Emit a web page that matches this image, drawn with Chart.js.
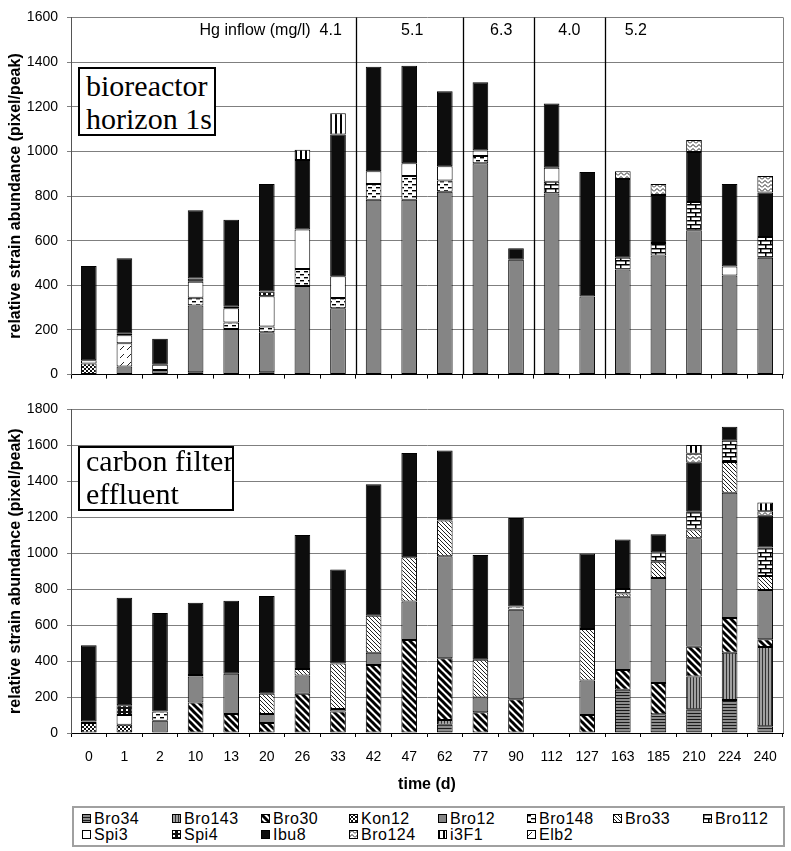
<!DOCTYPE html>
<html><head><meta charset="utf-8">
<script src="https://cdn.jsdelivr.net/npm/chart.js@4.4.1/dist/chart.umd.min.js"></script>
<style>
html,body{margin:0;padding:0;background:#fff;}
#wrap{position:relative;width:791px;height:851px;overflow:hidden;font-family:"Liberation Sans",Arial,sans-serif;}
#wrap>canvas{position:absolute;left:0;}
.box{position:absolute;border:2px solid #000;background:#fff;font-family:"Liberation Serif","Times New Roman",serif;font-size:30px;line-height:33px;padding:0 0 0 6px;box-sizing:border-box;white-space:nowrap;color:#000;}
#legend{position:absolute;left:72px;top:806px;width:713px;height:41px;border:2px solid #a0a0a0;box-sizing:border-box;background:#fff;}
.li{position:absolute;font-size:16px;line-height:16px;white-space:nowrap;color:#000;letter-spacing:0.5px;}
.li canvas{position:absolute;left:0;top:3px;}
.li span{position:absolute;left:12px;top:0;}
</style></head>
<body>
<div id="wrap">
  <canvas id="top" width="791" height="392" style="top:0"></canvas>
  <canvas id="bottom" width="791" height="410" style="top:392px"></canvas>
  <div class="box" style="left:78px;top:67px;width:138px;height:69px;">bioreactor<br>horizon 1s</div>
  <div class="box" style="left:78px;top:446px;width:156px;height:65px;"><div style="position:relative;top:-4px">carbon filter<br>effluent</div></div>
  <div id="legend"></div>
</div>
<script>
// ---------- DATA ----------
const categories = ['0','1','2','10','13','20','26','33','42','47','62','77','90','112','127','163','185','210','224','240'];
const topYTicks = [0,200,400,600,800,1000,1200,1400,1600];
const bottomYTicks = [0,200,400,600,800,1000,1200,1400,1600,1800];
const hgInflow = ['4.1','5.1','6.3','4.0','5.2'];
const legendNames = ['Bro34','Bro143','Bro30','Kon12','Bro12','Bro148','Bro33','Bro112','Spi3','Spi4','Ibu8','Bro124','i3F1','Elb2'];

// bioreactor horizon 1s
const topKon12  = [50,0,0,10,0,11,0,0,0,0,0,0,0,0,0,0,0,0,0,0];
const topBro12  = [0,36,21,299,204,179,397,297,783,783,819,947,514,811,350,471,533,647,444,523];
const topElb2   = [0,104,0,0,0,0,0,0,0,0,0,0,0,0,0,0,0,0,0,0];
const topBro148 = [0,0,0,35,29,26,76,46,71,107,50,32,0,0,0,0,0,0,0,0];
const topBro112 = [0,0,0,0,0,0,0,0,0,0,0,0,0,53,0,52,57,126,0,93];
const topSpi3   = [14,36,23,72,64,135,177,97,57,57,64,25,0,62,0,0,0,0,40,0];
const topSpi4   = [0,7,0,15,7,21,0,0,0,0,0,0,0,0,0,0,0,0,0,0];
const topIbu8   = [423,338,117,305,390,482,311,636,468,436,336,305,52,288,557,353,214,224,370,200];
const topBro124 = [0,0,0,0,0,0,0,0,0,0,0,0,0,0,0,35,50,54,0,74];
const topI3F1   = [0,0,0,0,0,0,46,95,0,0,0,0,0,0,0,0,0,0,0,0];

// carbon filter effluent
const botBro34  = [0,0,0,0,0,0,0,0,0,0,46,0,0,0,0,241,104,132,183,37];
const botBro143 = [0,0,0,0,0,0,0,0,0,0,27,0,0,0,0,0,0,182,264,442];
const botBro30  = [0,0,0,170,106,55,219,119,378,517,343,115,188,0,100,110,174,166,192,42];
const botKon12  = [55,46,0,0,0,0,0,0,0,0,0,0,0,0,0,0,0,0,0,0];
const botBro12  = [0,0,68,144,223,51,101,14,69,214,567,82,497,0,192,407,584,603,698,274];
const botBro148 = [0,0,51,0,0,0,0,0,0,0,0,0,18,0,0,0,0,0,0,0];
const botBro33  = [0,0,0,0,0,113,36,254,205,246,199,210,0,0,287,18,91,49,170,78];
const botBro112 = [0,0,0,0,0,0,0,0,0,0,0,0,0,0,0,25,52,101,119,159];
const botSpi3   = [9,54,0,9,0,0,0,0,0,0,0,0,0,0,0,0,0,0,0,0];
const botSpi4   = [0,55,0,0,0,0,0,0,0,0,0,0,0,0,0,0,0,0,0,0];
const botIbu8   = [424,597,548,402,407,543,745,523,731,581,389,583,493,0,420,276,100,270,78,177];
const botBro124 = [0,0,0,0,0,0,0,0,0,0,0,0,0,0,0,0,0,50,0,24];
const botI3F1   = [0,0,0,0,0,0,0,0,0,0,0,0,0,0,0,0,0,49,0,49];

// ---------- PATTERNS ----------
function tile(w,h,bg,draw){
  const c=document.createElement('canvas'); c.width=w; c.height=h;
  const g=c.getContext('2d'); g.fillStyle=bg; g.fillRect(0,0,w,h); draw(g,w,h); return c;
}
function diag(g,s,lw,col){ // "\" direction
  g.strokeStyle=col; g.lineWidth=lw; g.lineCap='butt';
  for(const k of [-s,0,s]){ g.beginPath(); g.moveTo(k-1,-1); g.lineTo(k+s+1,s+1); g.stroke(); }
}
const tiles = {
  Bro34: tile(4,3,'#8c8c8c',g=>{g.fillStyle='#1a1a1a';g.fillRect(0,0,4,1);}),
  Bro143: tile(3,4,'#a0a0a0',g=>{g.fillStyle='#333';g.fillRect(0,0,1,4);}),
  Bro30: tile(7,7,'#fff',(g,w)=>diag(g,w,3,'#000')),
  Kon12: tile(4,4,'#fff',g=>{g.fillStyle='#111';g.fillRect(0,0,2,2);g.fillRect(2,2,2,2);}),
  Bro12: tile(2,2,'#858585',()=>{}),
  Bro148: tile(8,6,'#fff',g=>{g.fillStyle='#000';g.fillRect(0,1,4,1.4);g.fillRect(4,4,4,1.4);}),
  Bro33: tile(4,4,'#fff',(g,w)=>diag(g,w,1,'#222')),
  Bro112: tile(10,8,'#fff',g=>{g.fillStyle='#000';g.fillRect(0,0,10,1.5);g.fillRect(0,4,10,1.5);g.fillRect(0,0,1.5,4);g.fillRect(5,4,1.5,4);}),
  Spi3: tile(2,2,'#fff',()=>{}),
  Spi4: tile(5,4,'#111',g=>{g.fillStyle='#fff';g.fillRect(1,1,2,2);}),
  Ibu8: tile(2,2,'#0d0d0d',()=>{}),
  Bro124: tile(6,4,'#fff',g=>{g.strokeStyle='#222';g.lineWidth=1;g.beginPath();g.moveTo(0,3.5);g.lineTo(3,0.5);g.lineTo(6,3.5);g.stroke();}),
  i3F1: tile(5,2,'#fff',g=>{g.fillStyle='#000';g.fillRect(0,0,2,2);}),
  Elb2: tile(7,8,'#fff',g=>{g.strokeStyle='#222';g.lineWidth=1;g.beginPath();g.moveTo(1,6);g.lineTo(5,2);g.stroke();})
};
function fillFor(ctx,name){ return ctx.createPattern(tiles[name],'repeat'); }

// ---------- CHART HELPERS ----------
const FONT = '"Liberation Sans", Arial, sans-serif';
Chart.defaults.font.family = FONT;
Chart.defaults.color = '#000';

function build(ctx, series){
  return series.map(([name,vals])=>({
    label:name,
    data: vals.map(v=> v>0 ? v : null),
    backgroundColor: fillFor(ctx,name),
    borderColor:'#000', borderWidth:1, borderSkipped:false,
    barPercentage:0.44, categoryPercentage:1.0, stack:'s'
  }));
}
const frame = {id:'frame', afterDraw(chart){
  const a=chart.chartArea, c=chart.ctx; c.save();
  c.strokeStyle='#808080'; c.lineWidth=1;
  c.beginPath(); c.moveTo(Math.round(a.right)+0.5,a.top); c.lineTo(Math.round(a.right)+0.5,a.bottom); c.stroke();
  c.restore();
}};
const hgPlugin = {id:'hg', afterDraw(chart){
  const x=chart.scales.x, a=chart.chartArea, c=chart.ctx;
  const step = x.getPixelForValue(1)-x.getPixelForValue(0);
  const b = i => x.getPixelForValue(i)-step/2;
  c.save(); c.strokeStyle='#000'; c.lineWidth=1.3;
  [8,11,13,15].forEach(i=>{const px=Math.round(b(i))+0.5; c.beginPath(); c.moveTo(px,a.top); c.lineTo(px,a.bottom); c.stroke();});
  c.fillStyle='#000'; c.font='16px '+FONT; c.textBaseline='middle';
  const y=a.top+13;
  c.textAlign='right'; c.fillText('Hg inflow (mg/l)  '+hgInflow[0], b(8)-14, y);
  c.textAlign='center';
  c.fillText(hgInflow[1], x.getPixelForValue(9)+3, y);
  c.fillText(hgInflow[2], b(12)+3, y);
  c.fillText(hgInflow[3], b(14), y);
  c.fillText(hgInflow[4], x.getPixelForValue(15)+13, y);
  c.restore();
}};

function makeChart(id, series, yTicks, showX, padTop, xHeight, plugins){
  const ctx=document.getElementById(id).getContext('2d');
  return new Chart(ctx,{
    type:'bar',
    data:{labels:categories, datasets:build(ctx,series)},
    options:{
      responsive:false, animation:false, devicePixelRatio:1,
      layout:{padding:{left:0,right:8,top:padTop,bottom:0}},
      plugins:{legend:{display:false}, tooltip:{enabled:false}},
      scales:{
        x:{stacked:true, offset:true,
           grid:{display:true, drawOnChartArea:false, drawTicks:true, tickLength:4, color:'#000', offset:true},
           border:{display:true, color:'#000', width:1},
           ticks:{display:true, padding:12, font:{size:14}, color:'#000', maxRotation:0, autoSkip:false,
                  callback:(v,i)=> showX ? categories[i] : ''},
           title:{display:showX, text:'time (d)', font:{size:16, weight:'bold'}, color:'#000', padding:{top:0,bottom:8}},
           afterFit:s=>{s.height=xHeight;}
        },
        y:{stacked:true, min:0, max:yTicks[yTicks.length-1],
           afterBuildTicks:s=>{s.ticks=yTicks.map(v=>({value:v}));},
           grid:{color:'#7f7f7f', lineWidth:1, tickLength:4, drawTicks:true},
           border:{display:true, color:'#555', width:1},
           ticks:{padding:9, font:{size:14}, color:'#000', callback:v=>String(v)},
           title:{display:true, text:'relative strain abundance (pixel/peak)', font:{size:16, weight:'bold'}, color:'#000', padding:{top:6,bottom:0}},
           afterFit:s=>{s.width=71;}
        }
      }
    },
    plugins:plugins
  });
}

makeChart('top', [
  ['Kon12',topKon12],['Bro12',topBro12],['Elb2',topElb2],['Bro148',topBro148],['Bro112',topBro112],
  ['Spi3',topSpi3],['Spi4',topSpi4],['Ibu8',topIbu8],['Bro124',topBro124],['i3F1',topI3F1]
], topYTicks, false, 12, 8, [frame, hgPlugin]);

makeChart('bottom', [
  ['Bro34',botBro34],['Bro143',botBro143],['Bro30',botBro30],['Kon12',botKon12],['Bro12',botBro12],
  ['Bro148',botBro148],['Bro33',botBro33],['Bro112',botBro112],['Spi3',botSpi3],['Spi4',botSpi4],
  ['Ibu8',botIbu8],['Bro124',botBro124],['i3F1',botI3F1]
], bottomYTicks, true, 13, 69, [frame]);

// ---------- LEGEND ----------
const legendCols = [82,172,261,349,438,527,613,703];
const legend=document.getElementById('legend');
legendNames.forEach((name,i)=>{
  const row=Math.floor(i/8), col=i%8;
  const d=document.createElement('div'); d.className='li';
  d.style.left=(legendCols[col]-74)+'px'; d.style.top=(row?19:3)+'px';
  const cv=document.createElement('canvas'); cv.width=9; cv.height=9;
  const g=cv.getContext('2d'); g.fillStyle=g.createPattern(tiles[name],'repeat'); g.fillRect(0,0,9,9);
  g.strokeStyle='#000'; g.lineWidth=1; g.strokeRect(0.5,0.5,8,8);
  const sp=document.createElement('span'); sp.textContent=name;
  d.appendChild(cv); d.appendChild(sp); legend.appendChild(d);
});
</script>
</body></html>
